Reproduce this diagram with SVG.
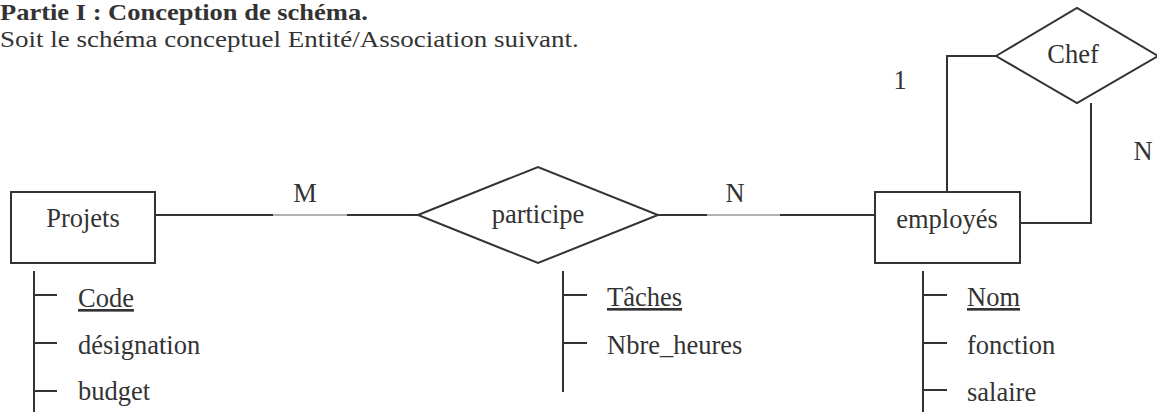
<svg xmlns="http://www.w3.org/2000/svg" width="1157" height="412" viewBox="0 0 1157 412">
<style>
  text { font-family: "Liberation Serif", "Times New Roman", serif; font-size: 26.5px; fill: #333333; }
  .title { font-weight: bold; }
  .intro { font-size: 27px; }
  .mid { text-anchor: middle; }
  .key { text-decoration: underline; }
  .shape { fill: #ffffff; stroke: #333333; stroke-width: 2; }
  .line { fill: none; stroke: #333333; stroke-width: 2; }
  .thin { fill: none; stroke: #666666; stroke-width: 1; }
</style>
<rect width="1157" height="412" fill="#ffffff"/>
<g id="header">
  <text class="title" transform="translate(0,20) scale(1,0.85)" x="0" y="0">Partie I : Conception de schéma.</text>
  <text class="intro" transform="translate(0,46.5) scale(1,0.85)" x="0" y="0">Soit le schéma conceptuel Entité/Association suivant.</text>
</g>
<g id="connectors">
  <line class="line" x1="155" y1="215" x2="273" y2="215"/>
  <line class="thin" x1="273" y1="215" x2="347" y2="215"/>
  <line class="line" x1="347" y1="215" x2="418" y2="215"/>
  <line class="line" x1="658" y1="215" x2="707" y2="215"/>
  <line class="thin" x1="707" y1="215" x2="780" y2="215"/>
  <line class="line" x1="780" y1="215" x2="875" y2="215"/>
  <polyline class="line" points="996,56 947,56 947,200"/>
  <polyline class="line" points="1091,103 1091,223 1020,223"/>
  <text class="mid" x="305" y="202">M</text>
  <text class="mid" x="735" y="202">N</text>
  <text class="mid" x="900" y="89">1</text>
  <text class="mid" x="1143" y="160">N</text>
</g>
<g id="projets">
  <rect class="shape" x="11" y="192" width="144" height="71"/>
  <text class="mid" x="83" y="227">Projets</text>
</g>
<g id="participe">
  <polygon class="shape" points="418,215 538,167 658,215 538,263"/>
  <text class="mid" x="538" y="223">participe</text>
</g>
<g id="employes">
  <rect class="shape" x="875" y="192" width="145" height="71"/>
  <text class="mid" x="947" y="228">employés</text>
</g>
<g id="chef">
  <polygon class="shape" points="996,56 1077,8 1158,56 1077,103"/>
  <text class="mid" x="1073" y="63">Chef</text>
</g>
<g id="projets-attributes">
  <line class="line" x1="34" y1="271" x2="34" y2="412"/>
  <line class="line" x1="34" y1="295" x2="57" y2="295"/>
  <line class="line" x1="34" y1="343" x2="57" y2="343"/>
  <line class="line" x1="34" y1="391" x2="57" y2="391"/>
  <text class="key" x="78" y="307">Code</text>
  <text x="78" y="354">désignation</text>
  <text x="78" y="400">budget</text>
</g>
<g id="participe-attributes">
  <line class="line" x1="563" y1="271" x2="563" y2="392"/>
  <line class="line" x1="563" y1="295" x2="587" y2="295"/>
  <line class="line" x1="563" y1="343" x2="587" y2="343"/>
  <text class="key" x="607" y="306">Tâches</text>
  <text x="607" y="354">Nbre_heures</text>
</g>
<g id="employes-attributes">
  <line class="line" x1="923" y1="271" x2="923" y2="412"/>
  <line class="line" x1="923" y1="295" x2="947" y2="295"/>
  <line class="line" x1="923" y1="343" x2="947" y2="343"/>
  <line class="line" x1="923" y1="390" x2="947" y2="390"/>
  <text class="key" x="967" y="306">Nom</text>
  <text x="967" y="354">fonction</text>
  <text x="967" y="401">salaire</text>
</g>
</svg>
